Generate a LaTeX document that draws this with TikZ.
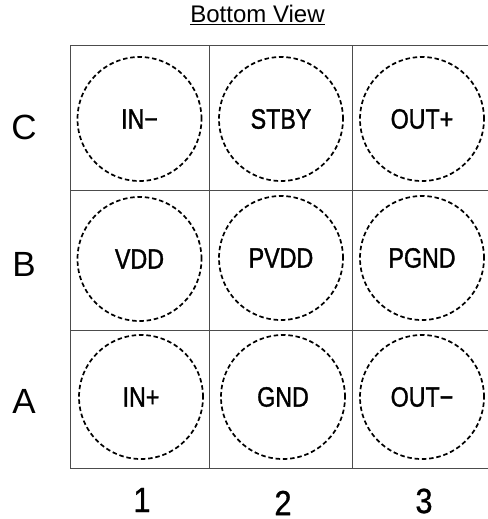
\documentclass[tikz,border=0pt]{standalone}
\usepackage{fontspec}
\setmainfont{Liberation Sans}
\newfontfamily\pinfont[FakeStretch=0.83,FakeBold=1.2]{Liberation Sans}
\newfontfamily\numfont[FakeStretch=0.88,FakeBold=0.8]{Liberation Sans}
\begin{document}
\begin{tikzpicture}[x=1pt,y=-1pt]
\definecolor{gridgray}{rgb}{0.3,0.3,0.3}
\tikzset{
  pin/.style={draw, circle, dashed, dash pattern=on 4.5pt off 2.8pt, line width=1.7pt,
    minimum size=124pt, inner sep=0pt, font=\pinfont\fontsize{28}{28}\selectfont},
  rowlabel/.style={font=\fontsize{35}{35}\selectfont},
  collabel/.style={inner sep=0pt, font=\numfont\fontsize{35}{35}\selectfont}
}
\useasboundingbox (0,0) rectangle (487,519);

\node[anchor=base, font=\fontsize{24}{24}\selectfont] (title) at (257.5,23) {\underline{Bottom View}};

% grid
\path[draw,gridgray,line width=1pt] (70,46) rectangle (494,468);
\path[draw,gridgray,line width=1pt] (209,46) -- (209,468);
\path[draw,gridgray,line width=1pt] (352,46) -- (352,468);
\path[draw,gridgray,line width=1pt] (70,190) -- (494,190);
\path[draw,gridgray,line width=1pt] (70,330) -- (494,330);

% balls
\node[pin] (C1) at (139.5,119) {IN−};
\node[pin] (C2) at (281,119) {STBY};
\node[pin] (C3) at (422,119) {OUT+};
\node[pin] (B1) at (139.5,259) {VDD};
\node[pin] (B2) at (281,258) {PVDD};
\node[pin] (B3) at (422,258) {PGND};
\node[pin] (A1) at (141,397) {IN+};
\node[pin] (A2) at (283,397) {GND};
\node[pin] (A3) at (422,397) {OUT−};

\node[rowlabel] (C) at (24,127) {C};
\node[rowlabel] (B) at (24,264) {B};
\node[rowlabel] (A) at (24,401) {A};
\node[collabel] (1) at (142,500) {1};
\node[collabel] (2) at (283,503) {2};
\node[collabel] (3) at (424,501) {3};
\end{tikzpicture}
\end{document}
